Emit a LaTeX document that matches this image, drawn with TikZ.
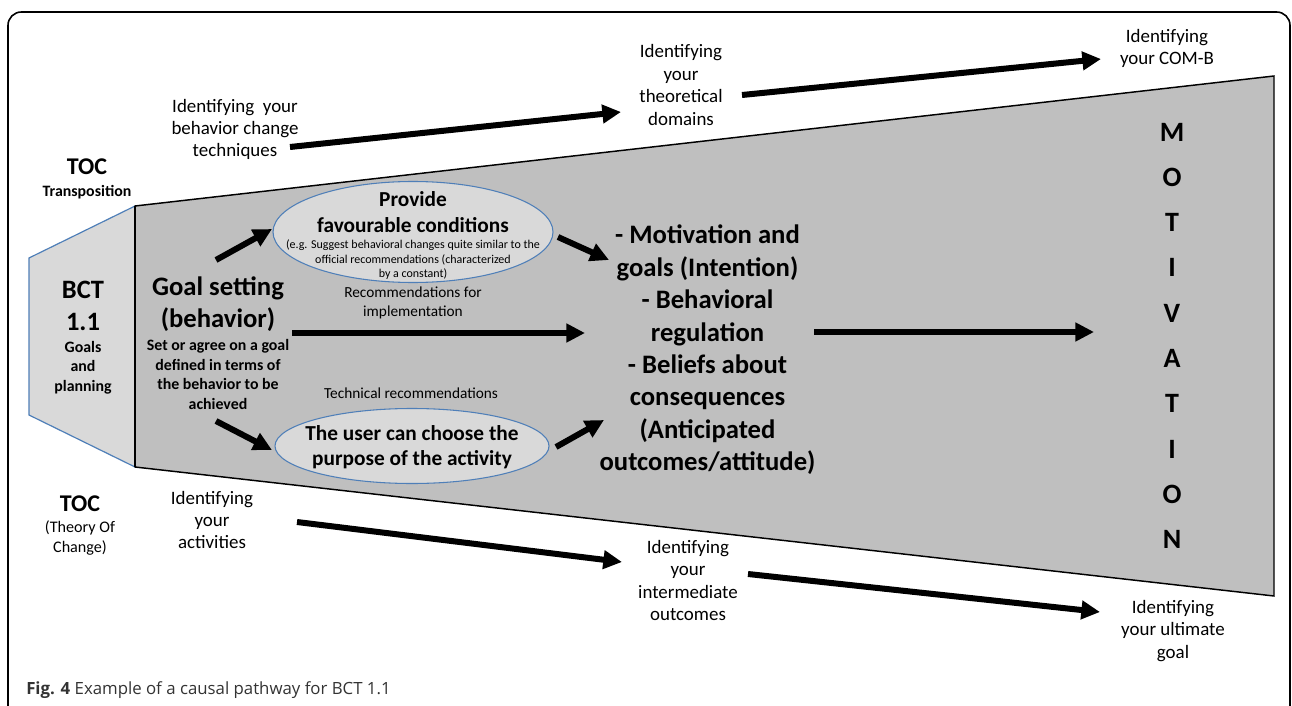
\documentclass[tikz,border=0pt]{standalone}
\usepackage{fontspec}
\setmainfont{Carlito}
\newfontfamily\capfont{Open Sans}
\usetikzlibrary{arrows.meta,shapes.geometric}
\definecolor{trapgray}{HTML}{BFBFBF}
\definecolor{lgray}{HTML}{D9D9D9}
\definecolor{eblue}{HTML}{4F7FB8}
\definecolor{capgray}{HTML}{333333}
\begin{document}
\begin{tikzpicture}[x=0.75pt,y=-0.75pt,
  lbl/.style={align=center,inner sep=0pt,font=\fontsize{14.2}{16.8}\selectfont},
  bigb/.style={align=center,inner sep=0pt,font=\bfseries\fontsize{20}{24}\selectfont},
  midb/.style={align=center,inner sep=0pt,font=\bfseries\fontsize{11.9}{14.6}\selectfont},
  smallr/.style={align=center,inner sep=0pt,font=\fontsize{11.5}{14.25}\selectfont},
  centerb/.style={align=center,inner sep=0pt,font=\bfseries\fontsize{20}{24.3}\selectfont},
  letter/.style={inner sep=0pt,font=\bfseries\fontsize{21}{24}\selectfont},
  ell/.style={ellipse,draw=eblue,fill=lgray,line width=0.8pt,inner sep=0pt},
  fatarrow/.style={line width=4.5pt,-{Triangle[length=14pt,width=13.5pt]}},
]
\useasboundingbox (0,0) rectangle (1292,706);
\fill[white] (0,0) rectangle (1292,706);
% frame
\draw[line width=1.2pt,rounded corners=10pt] (8,708) -- (8,12) -- (1290,12) -- (1290,708);
% big trapezoid
\draw[fill=trapgray,line width=1.1pt] (135,206) -- (1274,76) -- (1274,596) -- (135,467) -- cycle;
% BCT box
\fill[lgray] (29,258) -- (135,206) -- (135,467) -- (29,415) -- cycle;
\draw[eblue,line width=0.9pt] (135,206) -- (29,258) -- (29,415) -- (135,467);
\draw[line width=1.1pt] (135,206) -- (135,467);

% top labels
\node[lbl] (tech) at (235,129.5) {Identifying\ \ your\\behavior change\\techniques};
\node[lbl] (dom) at (681,85) {Identifying\\your\\theoretical\\domains};
\node[lbl] (comb) at (1167,48.5) {Identifying\\your COM-B};

% TOC labels
\node[inner sep=0pt,font=\bfseries\fontsize{18}{20}\selectfont] (toct) at (87,167) {TOC};
\node[inner sep=0pt,font=\bfseries\fontsize{11.9}{14}\selectfont] (trans) at (87,192) {Transposition};
\node[inner sep=0pt,font=\bfseries\fontsize{18}{20}\selectfont] (tocb) at (80,504) {TOC};
\node[align=center,inner sep=0pt,font=\fontsize{12.1}{15}\selectfont] (theory) at (80,538) {(Theory Of\\Change)};

% BCT box text
\node[align=center,inner sep=0pt,font=\bfseries\fontsize{19.9}{24}\selectfont] (bct) at (83,306) {BCT\\1.1};
\node[align=center,inner sep=0pt,font=\bfseries\fontsize{11.9}{14.6}\selectfont] (goals) at (83,367.5) {Goals\\and\\planning};

% goal setting
\node[bigb] (goal) at (218,304) {Goal setting\\(behavior)};
\node[midb] (setor) at (218,374.5) {Set or agree on a goal\\defined in terms of\\the behavior to be\\achieved};

% ellipse 1
\node[ell,minimum width=210pt,minimum height=75.75pt] (e1) at (413,232) {};
\node[align=center,inner sep=0pt,font=\bfseries\fontsize{16}{19.5}\selectfont] (e1t) at (413,212) {Provide\\favourable conditions};
\node[align=center,inner sep=0pt,font=\fontsize{9}{10.9}\selectfont] (e1s) at (413,260) {(e.g. Suggest behavioral changes quite similar to the\\official recommendations (characterized\\by a constant)};
\node[smallr] (rec) at (413,302.5) {Recommendations for\\implementation};

% ellipse 2
\node[smallr] (techrec) at (411,393) {Technical recommendations};
\node[ell,minimum width=205.5pt,minimum height=56.25pt] (e2) at (412,446) {};
\node[align=center,inner sep=0pt,font=\bfseries\fontsize{16}{18.8}\selectfont] (e2t) at (412,447.5) {The user can choose the\\purpose of the activity};

% center text
\node[centerb] (ctr) at (707.5,350) {- Motivation and\\goals (Intention)\\- Behavioral\\regulation\\- Beliefs about\\consequences\\(Anticipated\\outcomes/attitude)};

% MOTIVATION
\foreach \L [count=\i from 0] in {M,O,T,I,V,A,T,I,O,N} {
  \node[letter] (mot\i) at (1172,{132+45.3*\i}) {\L};
}

% bottom labels
\node[lbl] (act) at (212,520) {Identifying\\your\\activities};
\node[lbl] (inter) at (688,580.5) {Identifying\\your\\intermediate\\outcomes};
\node[lbl] (ult) at (1173,631) {Identifying\\your ultimate\\goal};

% caption
\node[anchor=west,inner sep=0pt,font=\capfont\fontsize{12.6}{15}\selectfont,text=capgray] (cap) at (26,690) {\textbf{Fig. 4} Example of a causal pathway for BCT 1.1};

% arrow end coordinates
\coordinate (a1s) at (290,147); \coordinate (a1e) at (621,112);
\coordinate (a2s) at (742,95);  \coordinate (a2e) at (1101,59);
\coordinate (a3s) at (216,260); \coordinate (a3e) at (272,229);
\coordinate (a4s) at (558,237); \coordinate (a4e) at (609,260);
\coordinate (a5s) at (292,333); \coordinate (a5e) at (585,333);
\coordinate (a6s) at (216,421); \coordinate (a6e) at (272,450);
\coordinate (a7s) at (556,447); \coordinate (a7e) at (604,420);
\coordinate (a8s) at (814,332); \coordinate (a8e) at (1094,332);
\coordinate (a9s) at (297,522); \coordinate (a9e) at (622,562);
\coordinate (a10s) at (748,574); \coordinate (a10e) at (1100,612);

\draw[fatarrow] (a1s) -- (a1e);
\draw[fatarrow] (a2s) -- (a2e);
\draw[fatarrow] (a3s) -- (a3e);
\draw[fatarrow] (a4s) -- (a4e);
\draw[fatarrow] (a5s) -- (a5e);
\draw[fatarrow] (a6s) -- (a6e);
\draw[fatarrow] (a7s) -- (a7e);
\draw[fatarrow] (a8s) -- (a8e);
\draw[fatarrow] (a9s) -- (a9e);
\draw[fatarrow] (a10s) -- (a10e);
\end{tikzpicture}
\end{document}
